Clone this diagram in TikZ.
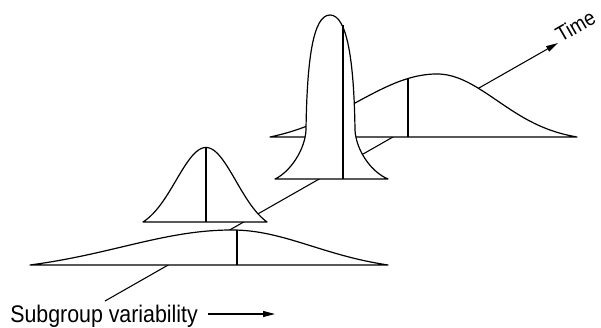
\documentclass[tikz,border=0pt]{standalone}
\usepackage{fontspec}
\newfontfamily\narrowsans{Liberation Sans}[FakeStretch=0.89]
\usetikzlibrary{arrows.meta}

\tikzset{
  curve/.style={draw, fill=white, line width=0.9pt, line join=round},
  meanline/.style={line width=0.9pt},
  axisarrow/.style={line width=0.8pt, -{Triangle[length=9pt,width=4.5pt]}},
  lbl/.style={font=\narrowsans\fontsize{18}{21}\selectfont, inner sep=0pt}
}

\begin{document}
\begin{tikzpicture}[x=0.75pt,y=-0.75pt,
  declare function={bell(\dx,\sg,\hw)=(exp(-0.5*(\dx/\sg)*(\dx/\sg))-exp(-0.5*(\hw/\sg)*(\hw/\sg)))/(1-exp(-0.5*(\hw/\sg)*(\hw/\sg)));}]
\useasboundingbox (0,0) rectangle (601,328);

% time axis
\coordinate (t0) at (105,301);
\coordinate (t1) at (558,43);
\draw[axisarrow] (t0) -- (t1);
\node[lbl, font=\narrowsans\fontsize{16}{19}\selectfont, rotate=30, anchor=base west] (time) at (561,43) {Time};

% wide, far
\draw[curve] (270,137)
  -- plot[domain=270:437, samples=60] (\x,{137-63*bell(\x-437,80,167)})
  -- plot[domain=437:577, samples=50] (\x,{137-63*bell(\x-437,60,140)}) -- cycle;
\draw[meanline] (408,{137-63*bell(-29,80,167)}) -- (408,137);

% tall, narrow
\draw[curve] (275,179) .. controls (290,172) and (305,150) .. (306,130)
  .. controls (307,60) and (313,15) .. (330,15)
  .. controls (347,15) and (354,60) .. (355,130)
  .. controls (356,150) and (371,172) .. (388,179) -- cycle;
\draw[meanline] (343,25) -- (343,179);

% small
\draw[curve] (143,222)
  -- plot[domain=143:206, samples=40] (\x,{222-74.5*bell(\x-206,30,63)})
  -- plot[domain=206:267, samples=40] (\x,{222-74.5*bell(\x-206,30,61)}) -- cycle;
\draw[meanline] (206,147.5) -- (206,222);

% wide, near
\draw[curve] (30,265)
  -- plot[domain=30:232, samples=60] (\x,{265-35*bell(\x-232,110,202)})
  -- plot[domain=232:388, samples=50] (\x,{265-35*bell(\x-232,80,156)}) -- cycle;
\draw[meanline] (237,{265-35*bell(5,80,156)}) -- (237,265);

% label
\node[lbl, anchor=base west] (sub) at (10,322) {Subgroup variability};
\coordinate (subtip) at (275,314);
\draw[axisarrow, shorten <=7.5pt] (sub.east |- subtip) -- (subtip);
\end{tikzpicture}
\end{document}
